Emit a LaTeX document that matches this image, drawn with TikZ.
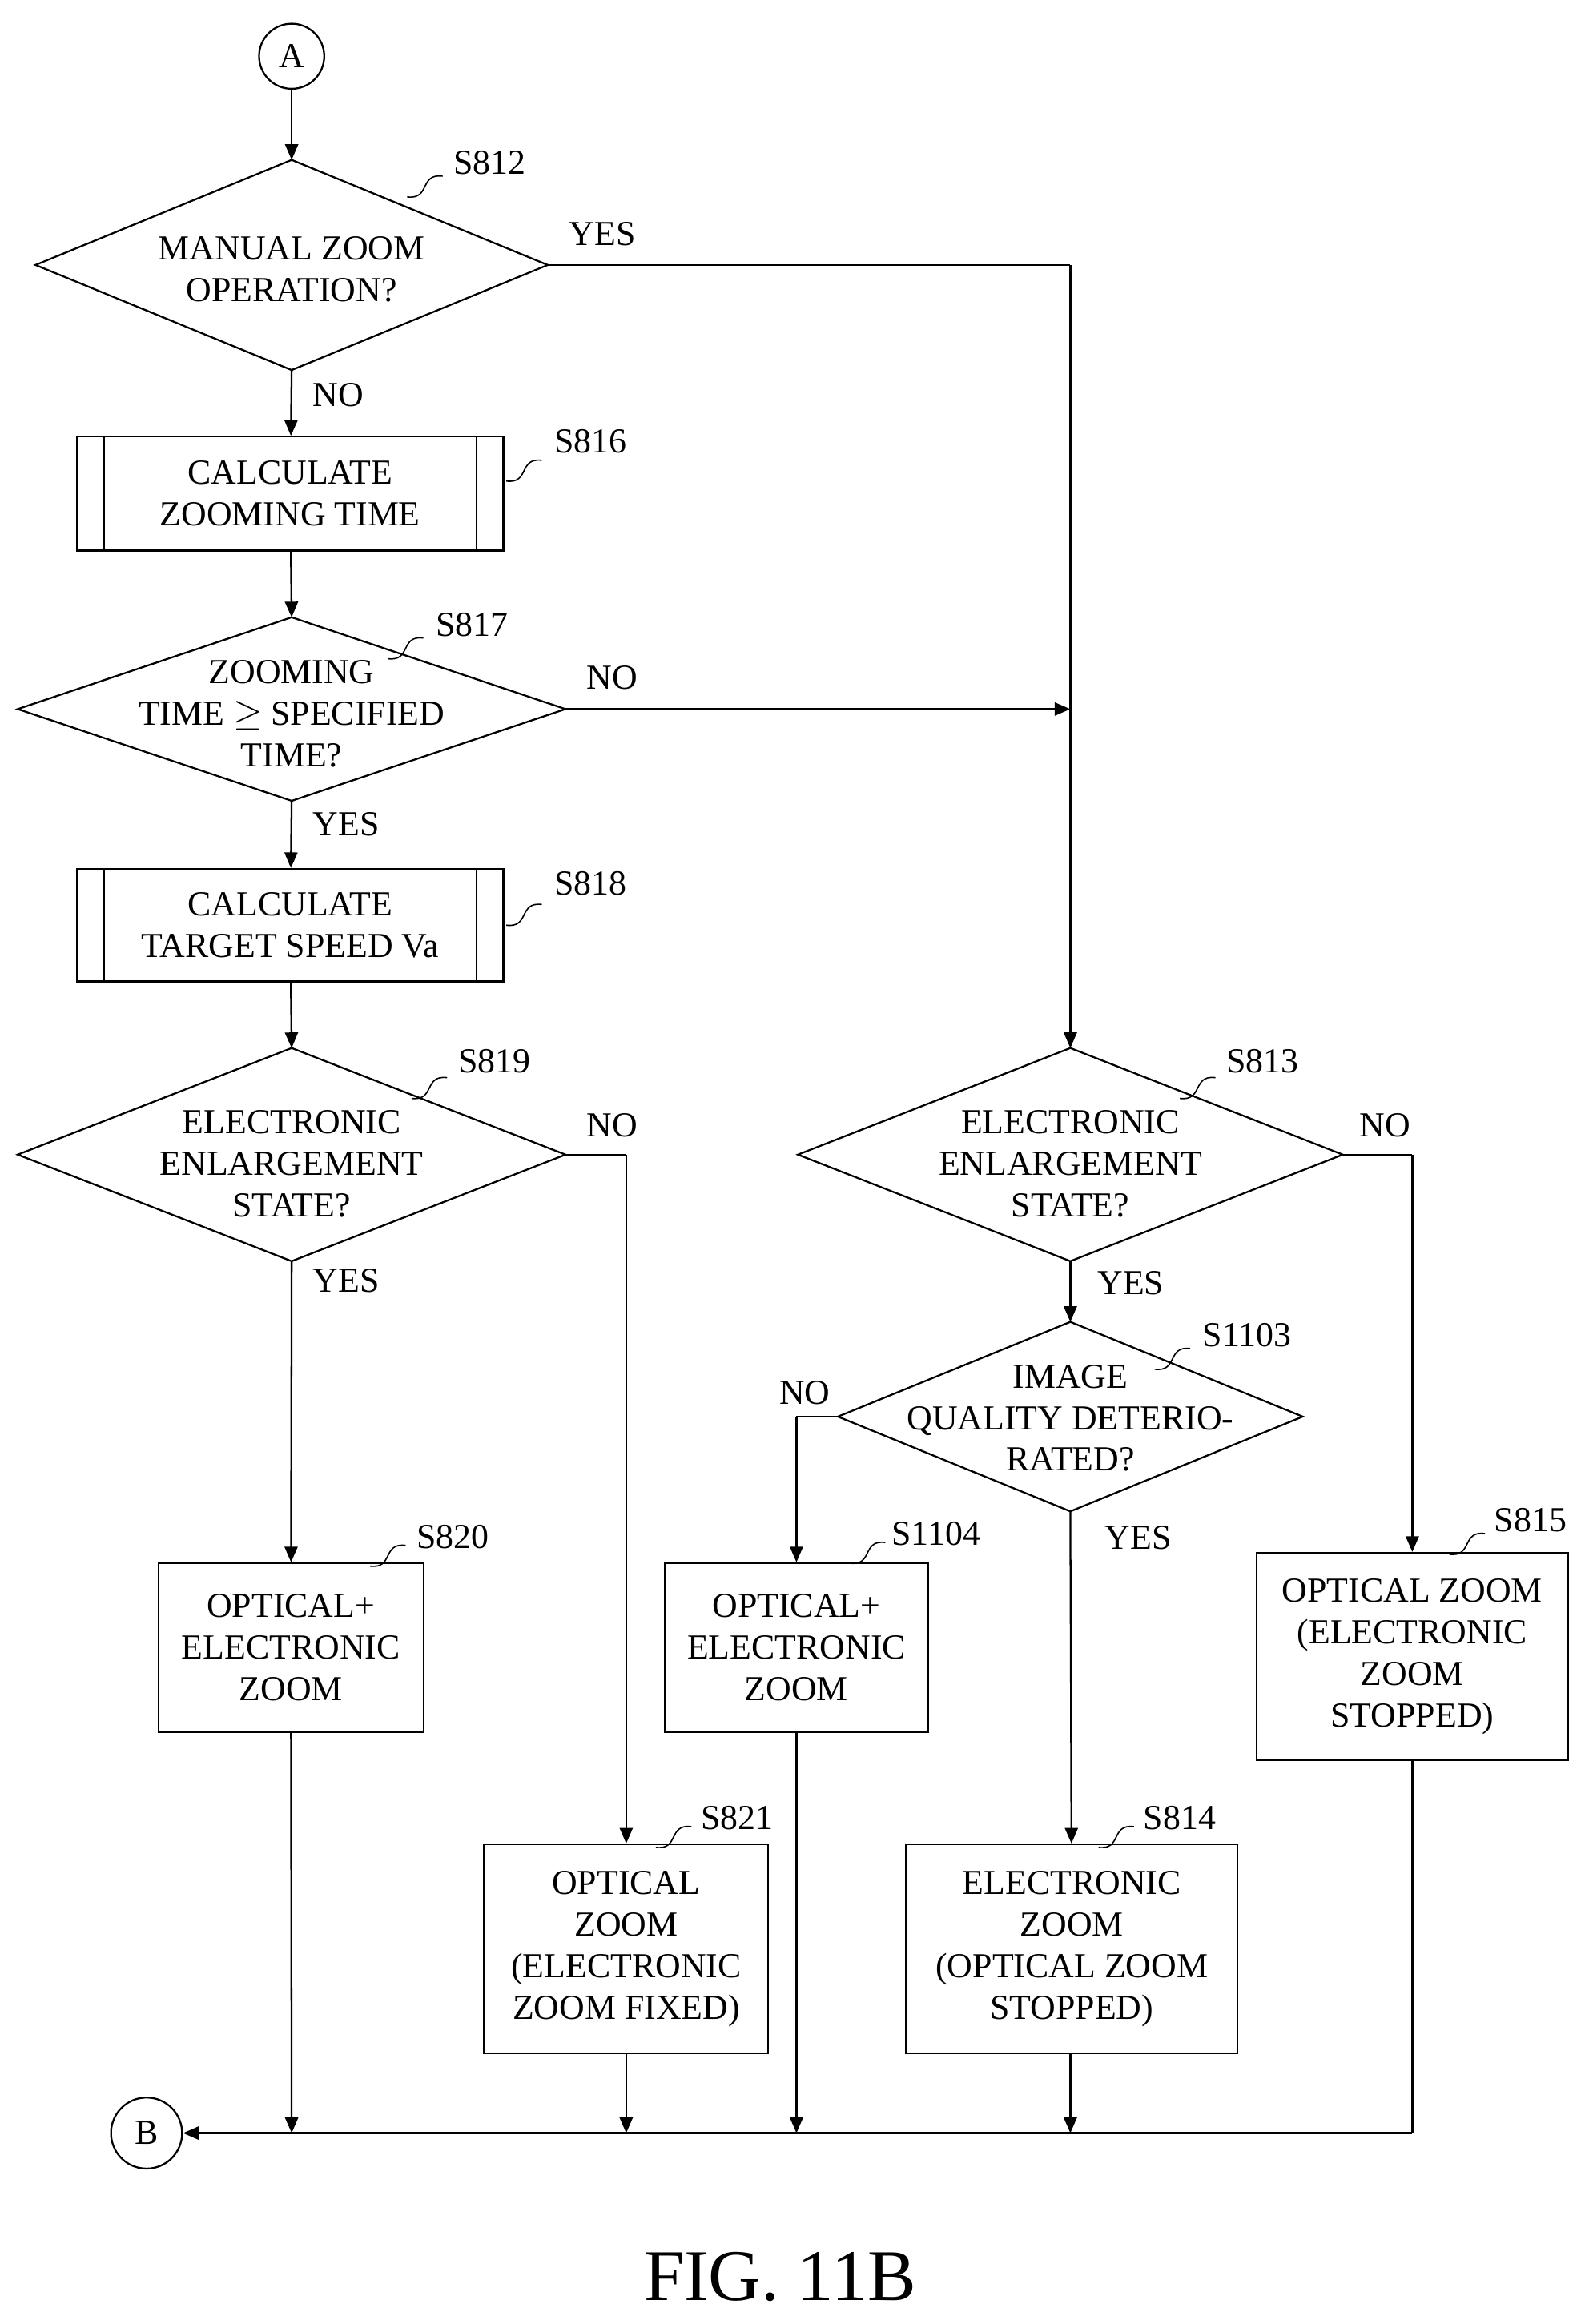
\documentclass[tikz,border=0pt]{standalone}
\usepackage{fontspec}
\setmainfont{Liberation Serif}
\usetikzlibrary{arrows.meta}
\begin{document}
\begin{tikzpicture}[x=0.02cm,y=-0.02cm,
  line width=0.7pt,
  arr/.style={-{Triangle[length=6pt,width=5pt]}},
  txt/.style={font=\fontsize{13.5}{16}\selectfont,align=center},
  lbl/.style={font=\fontsize{13.5}{16}\selectfont,anchor=west},
  box/.style={draw,txt,inner sep=0pt}]
\useasboundingbox (0,0) rectangle (1073,1570);
\newcommand{\sq}[2]{\draw[line width=0.5pt] (#1,#2) .. controls (#1+16,#2+2) and (#1+8,#2-16) .. (#1+24,#2-14);}
\newcommand{\dia}[5]{% name, cx, cy, hw, hh
  \draw (#2-#4,#3) -- (#2,#3-#5) -- (#2+#4,#3) -- (#2,#3+#5) -- cycle;
  \coordinate (#1n) at (#2,#3-#5); \coordinate (#1s) at (#2,#3+#5);
  \coordinate (#1w) at (#2-#4,#3); \coordinate (#1e) at (#2+#4,#3);}
% A
\node[draw,circle,minimum size=44*0.02cm,inner sep=0pt,txt] (A) at (197,38) {A};
% S812
\dia{d812}{197}{179}{173}{71}
\node[txt] (t812) at (197,182) {MANUAL ZOOM\\OPERATION?};
\node[lbl] at (300,110) {S812}; \sq{275}{133}
\draw[arr] (A) -- (d812n);
\node[lbl] at (378,158) {YES};
\node[lbl] at (205,267) {NO};
% S816
\node[box,minimum width=288*0.02cm,minimum height=77*0.02cm] (b816) at (196,333.5) {CALCULATE\\ZOOMING TIME};
\draw (70,295) -- (70,372) (322,295) -- (322,372);
\node[lbl] at (368,298) {S816}; \sq{342}{325}
\draw[arr] (d812s) -- (b816);
% S817
\dia{d817}{197}{479}{185}{62}
\node[txt] at (197,482) {ZOOMING\\TIME $\geq$ SPECIFIED\\TIME?};
\node[lbl] at (288,422) {S817}; \sq{262}{445}
\draw[arr] (b816) -- (d817n);
\node[lbl] at (390,458) {NO};
\node[lbl] at (205,557) {YES};
% S818
\node[box,minimum width=288*0.02cm,minimum height=76*0.02cm] (b818) at (196,625) {CALCULATE\\TARGET SPEED Va};
\draw (70,587) -- (70,663) (322,587) -- (322,663);
\node[lbl] at (368,597) {S818}; \sq{342}{625}
\draw[arr] (d817s) -- (b818);
% S819
\dia{d819}{197}{780}{185}{72}
\node[txt] at (197,786) {ELECTRONIC\\ENLARGEMENT\\STATE?};
\node[lbl] at (303,717) {S819}; \sq{278}{742}
\draw[arr] (b818) -- (d819n);
\node[lbl] at (390,760) {NO};
\node[lbl] at (205,865) {YES};
% S813
\dia{d813}{723}{780}{184}{72}
\node[txt] at (723,786) {ELECTRONIC\\ENLARGEMENT\\STATE?};
\node[lbl] at (822,717) {S813}; \sq{797}{742}
\node[lbl] at (912,760) {NO};
\node[lbl] at (735,867) {YES};
\coordinate (j1) at (723,179); \coordinate (j2) at (723,479);
\draw (d812e) -- (j1);
\draw[arr] (j1) -- (d813n);
\draw[arr] (d817e) -- (j2);
% S1103
\dia{d1103}{723}{957}{157}{64}
\node[txt] at (723,958) {IMAGE\\QUALITY DETERIO-\\RATED?};
\node[lbl] at (806,902) {S1103}; \sq{780}{925}
\draw[arr] (d813s) -- (d1103n);
\node[lbl] at (520,941) {NO};
\node[lbl] at (740,1039) {YES};
% boxes
\node[box,minimum width=179*0.02cm,minimum height=114*0.02cm] (b820) at (196.5,1113) {OPTICAL+\\ELECTRONIC\\ZOOM};
\node[lbl] at (275,1038) {S820}; \sq{250}{1058}
\node[box,minimum width=178*0.02cm,minimum height=114*0.02cm] (b1104) at (538,1113) {OPTICAL+\\ELECTRONIC\\ZOOM};
\node[lbl] at (596,1036) {S1104}; \sq{574}{1056}
\node[box,minimum width=192*0.02cm,minimum height=141*0.02cm] (b821) at (423,1316.5) {OPTICAL\\ZOOM\\(ELECTRONIC\\ZOOM FIXED)};
\node[lbl] at (467,1228) {S821}; \sq{443}{1248}
\node[box,minimum width=224*0.02cm,minimum height=141*0.02cm] (b814) at (724,1316.5) {ELECTRONIC\\ZOOM\\(OPTICAL ZOOM\\STOPPED)};
\node[lbl] at (766,1228) {S814}; \sq{742}{1248}
\node[box,minimum width=210*0.02cm,minimum height=140*0.02cm] (b815) at (954,1119) {OPTICAL ZOOM\\(ELECTRONIC\\ZOOM\\STOPPED)};
\node[lbl] at (1003,1027) {S815}; \sq{979}{1050}
% connectors
\draw[arr] (d819s) -- (b820);
\coordinate (c819) at (423,780);
\draw (d819e) -- (c819); \draw[arr] (c819) -- (b821);
\coordinate (c813) at (954,780);
\draw (d813e) -- (c813); \draw[arr] (c813) -- (b815);
\coordinate (c1103) at (538,957);
\draw (d1103w) -- (c1103); \draw[arr] (c1103) -- (b1104);
\draw[arr] (d1103s) -- (b814);
% B
\node[draw,circle,minimum size=48*0.02cm,inner sep=0pt,txt] (B) at (99,1441) {B};
\coordinate (r1) at (954,1441);
\coordinate (m1) at (197,1441); \coordinate (m2) at (423,1441);
\coordinate (m3) at (538,1441); \coordinate (m4) at (723,1441);
\draw (b815.south) -- (r1); \draw[arr] (r1) -- (B);
\draw[arr] (b820) -- (m1);
\draw[arr] (b821) -- (m2);
\draw[arr] (b1104) -- (m3);
\draw[arr] (b814.south -| m4) -- (m4);
\node[font=\fontsize{28}{32}\selectfont] (fig) at (527,1538) {FIG. 11B};
\end{tikzpicture}
\end{document}
